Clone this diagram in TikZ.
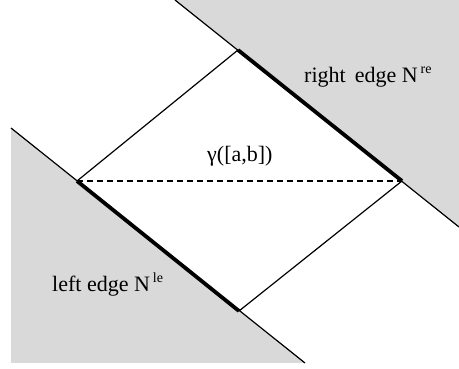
\documentclass[tikz,border=0pt]{standalone}
\usepackage{fontspec}
\setmainfont{Liberation Serif}
\definecolor{shade}{RGB}{217,217,217}
\tikzset{
  region/.style={fill=shade,draw=none},
  thinline/.style={line width=1.2pt,black},
  thickline/.style={line width=3.8pt,black,line cap=butt},
  chord/.style={line width=1.2pt,black,dash pattern=on 6pt off 4pt},
  lbl/.style={inner sep=0pt,anchor=base west,font=\fontsize{22}{26}\selectfont},
}
\newcommand{\supr}[1]{\kern3pt\raisebox{0.42em}{\fontsize{14}{16}\selectfont #1}}
\begin{document}
\begin{tikzpicture}[x=1pt,y=-1pt]
\useasboundingbox (0,0) rectangle (459,369);
% shaded regions
\coordinate (rt) at (175,0);
\coordinate (rb) at (459,227);
\coordinate (lt) at (11,128);
\coordinate (lb) at (305,363);
\fill[region] (rt) -- (rb) -- (459,0) -- cycle;
\fill[region] (lt) -- (lb) -- (11,363) -- cycle;
% diamond vertices
\coordinate (A) at (77,181);
\coordinate (B) at (238,50);
\coordinate (C) at (402,181);
\coordinate (D) at (239,311);
% boundary lines
\draw[thinline] (rt) -- (rb);
\draw[thinline] (lt) -- (lb);
\draw[thinline] (A) -- (B);
\draw[thinline] (D) -- (C);
\draw[thickline] (B) -- (C);
\draw[thickline] (A) -- (D);
\draw[chord] (A) -- (C);
% labels
\node[lbl] (gam) at (207,162) {γ([a,b])};
\node[lbl] (re) at (304,83) {right\kern9pt edge N\supr{re}};
\node[lbl] (le) at (52,292) {left edge N\supr{le}};
\end{tikzpicture}
\end{document}
